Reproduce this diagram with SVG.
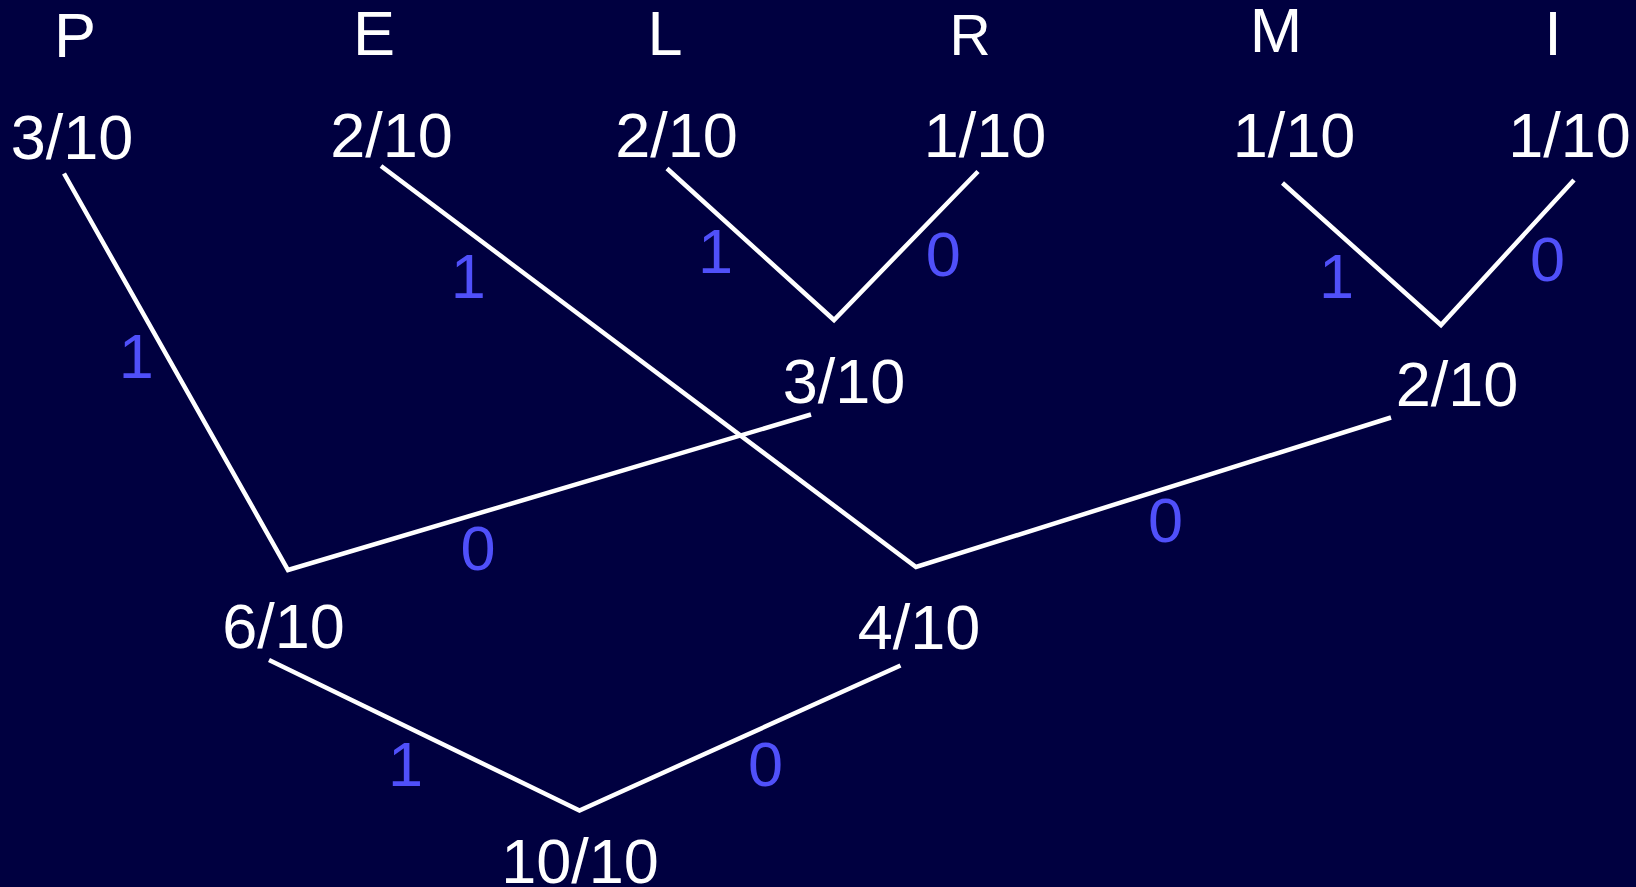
<svg xmlns="http://www.w3.org/2000/svg" width="1636" height="887" viewBox="0 0 1636 887">
<style>
.t{font-family:"Liberation Sans",Arial,sans-serif;font-size:63px;fill:#ffffff;text-anchor:middle}
.b{font-family:"Liberation Sans",Arial,sans-serif;font-size:63px;fill:#5050fa}
.e{fill:none;stroke:#ffffff;stroke-width:4.5;stroke-linecap:butt;stroke-linejoin:miter}
</style>
<rect x="0" y="0" width="1636" height="887" fill="#000040"/>
<g id="letters">
<text class="t" x="75" y="56.5">P</text>
<text class="t" x="374" y="55">E</text>
<text class="t" x="665" y="55">L</text>
<text class="t" x="970" y="55" style="font-size:57px">R</text>
<text class="t" x="1276" y="52">M</text>
<text class="t" x="1553" y="55">I</text>
</g>
<g id="leaf-P"><text class="t" x="72" y="159">3/10</text></g>
<g id="leaf-E"><text class="t" x="391.5" y="157">2/10</text></g>
<g id="leaf-L"><text class="t" x="676.5" y="157">2/10</text></g>
<g id="leaf-R"><text class="t" x="985" y="157">1/10</text></g>
<g id="leaf-M"><text class="t" x="1294" y="157">1/10</text></g>
<g id="leaf-I"><text class="t" x="1569.5" y="157">1/10</text></g>
<g id="node-LR"><text class="t" x="844" y="403">3/10</text></g>
<g id="node-MI"><text class="t" x="1457" y="406">2/10</text></g>
<g id="node-PLR"><text class="t" x="283.5" y="648">6/10</text></g>
<g id="node-EMI"><text class="t" x="919" y="649">4/10</text></g>
<g id="node-root"><text class="t" x="580" y="883">10/10</text></g>
<g id="connectors">
<polyline class="e" points="64,173.5 288,570 811,414.5"/>
<polyline class="e" points="381,166 916,567 1391,417.5"/>
<polyline class="e" points="667,168.5 834,320 978,171.5"/>
<polyline class="e" points="1282.5,183 1441,325 1574,180"/>
<polyline class="e" points="269,660 579.5,810.5 900.5,665.5"/>
</g>
<g id="edge-labels">
<text class="b" x="118.7" y="378">1</text>
<text class="b" x="450.8" y="298">1</text>
<text class="b" x="698" y="273">1</text>
<text class="b" x="925.8" y="276">0</text>
<text class="b" x="1319" y="298">1</text>
<text class="b" x="1530" y="281">0</text>
<text class="b" x="460.5" y="570">0</text>
<text class="b" x="1148" y="542">0</text>
<text class="b" x="388" y="786">1</text>
<text class="b" x="748" y="786">0</text>
</g>
</svg>
